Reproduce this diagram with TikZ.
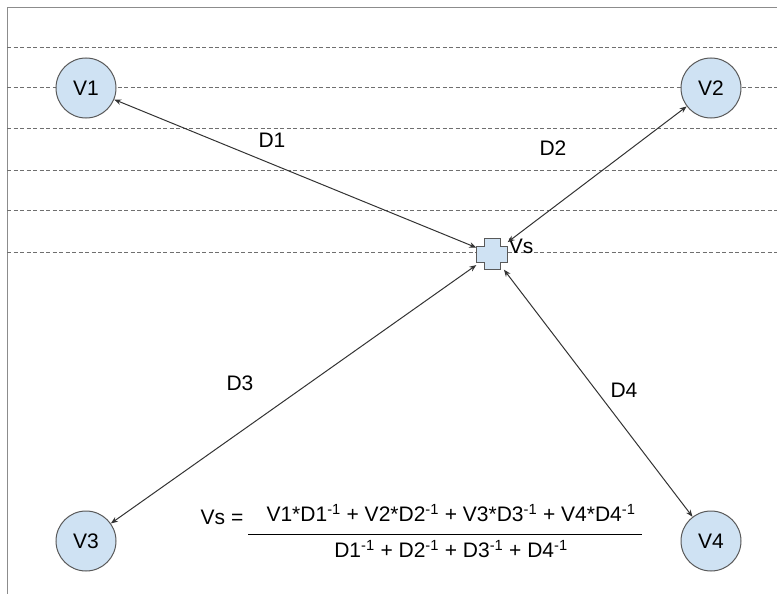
\documentclass[tikz,border=0pt]{standalone}
\usepackage{fontspec}
\setmainfont{Liberation Sans}
\usetikzlibrary{arrows.meta}
\definecolor{nodefill}{HTML}{CFE2F3}
\definecolor{nodeline}{HTML}{595959}
\definecolor{gridline}{HTML}{6F6F6F}
\newcommand*{\rad }{30pt}
\newcommand*{\hsz }{15.5}
\newcommand*{\arm }{8}
\newcommand*{\inv }{\textsuperscript{-1}}
\tikzset{
    vnode/.style = {circle, minimum size=2*\rad, inner sep=0pt, draw=nodeline, fill=nodefill, line width=1pt},
    link/.style  = {{Stealth[length=7pt,width=5.5pt]}-{Stealth[length=7pt,width=5.5pt]}, draw=black!80, line width=1pt},
    guide/.style = {draw=gridline, dash pattern=on 4pt off 2.5pt, line width=1pt}
}

\begin{document}
\begin{tikzpicture}[x=1pt, y=-1pt, font=\fontsize{21}{25}\selectfont]
    \useasboundingbox (0,0) rectangle (777,594);
    % frame and guide lines
    \draw [draw=black!45, line width=1pt] (7,594) -- (7,8) -- (777,8);
    \foreach \yy in {48,88,128,170,210,252}
        \draw [guide] (7,\yy) -- (777,\yy);
    % stations
    \node [vnode] (v1) at ( 86, 88) {V1};
    \node [vnode] (v2) at (711, 88) {V2};
    \node [vnode] (v3) at ( 86,541) {V3};
    \node [vnode] (v4) at (711,541) {V4};
    % target point
    \node [minimum size=31pt, inner sep=0pt] (vs) at (492,254) {};
    \draw [shift={(vs.center)}, draw=nodeline, fill=nodefill, line width=1pt]
        (-\arm,-\hsz) -- (\arm,-\hsz) -- (\arm,-\arm) -- (\hsz,-\arm) -- (\hsz,\arm) -- (\arm,\arm)
        -- (\arm,\hsz) -- (-\arm,\hsz) -- (-\arm,\arm) -- (-\hsz,\arm) -- (-\hsz,-\arm) -- (-\arm,-\arm) -- cycle;
    \node [anchor=west, inner sep=1pt, yshift=8pt] (vslbl) at (vs.east) {Vs};
    % distances
    \draw [link] (v1) -- (vs);
    \draw [link] (v2) -- (vs);
    \draw [link] (v3) -- (vs);
    \draw [link] (v4) -- (vs);
    \node (d1) at (272,140) {D1};
    \node (d2) at (553,148) {D2};
    \node (d3) at (240,383) {D3};
    \node (d4) at (624,390) {D4};
    % formula
    \node (lhs) at (222,517) {Vs =};
    \node (num) at (451,513) {V1*D1\inv{} + V2*D2\inv{} + V3*D3\inv{} + V4*D4\inv};
    \node (den) at (451,549) {D1\inv{} + D2\inv{} + D3\inv{} + D4\inv};
    \draw [line width=1pt] (248,534) -- (642,534);
    %\draw [red] (200,500) rectangle (245,534);
\end{tikzpicture}
\end{document}
